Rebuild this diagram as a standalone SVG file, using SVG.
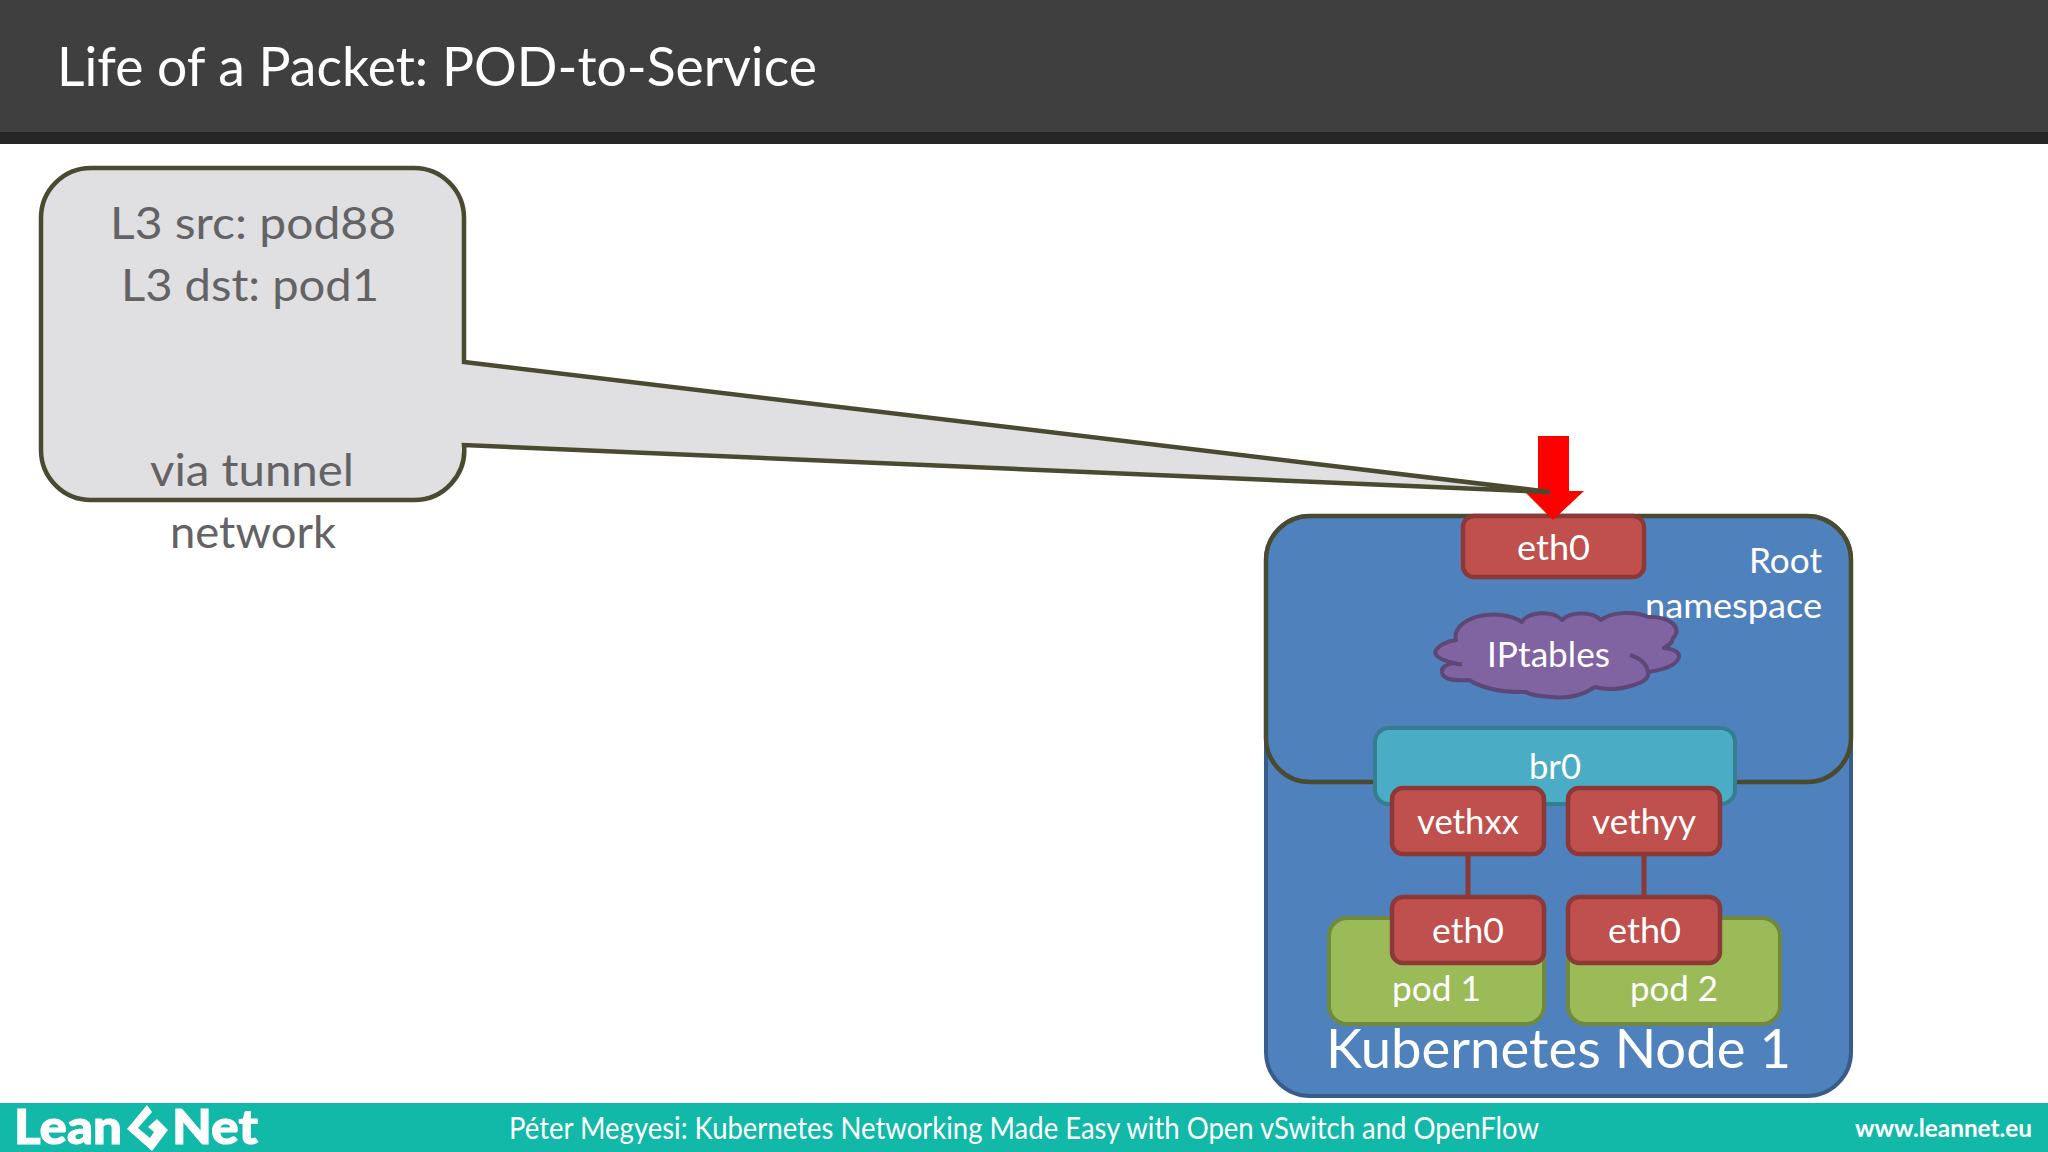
<svg xmlns="http://www.w3.org/2000/svg" width="2048" height="1152" viewBox="0 0 2048 1152">
<style>
text{font-family:Lato,"Open Sans","Liberation Sans",sans-serif;fill:#fff;}
.port{fill:#c0504d;stroke:#8c3836;stroke-width:4.5;}
.pod{fill:#9bbb59;stroke:#71893f;stroke-width:4;}
.lbl{font-size:35px;}
.call{font-size:45px;fill:#636264;}
.wire{stroke:#8c3836;stroke-width:5;fill:none;}
.olive{stroke:#4a4a30;stroke-width:4.5;}
</style>
<rect width="2048" height="1152" fill="#fff"/>
<g id="header">
<rect width="2048" height="132" fill="#3f3f3f"/>
<rect y="132" width="2048" height="12" fill="#262626"/>
<text x="57" y="86" font-size="54" textLength="760" lengthAdjust="spacingAndGlyphs">Life of a Packet: POD-to-Service</text>
</g>
<g id="footer">
<rect y="1103" width="2048" height="49" fill="#12b9a8"/>
<text x="14" y="1144" font-size="47" font-weight="900" stroke="#fff" stroke-width="1" textLength="108" lengthAdjust="spacingAndGlyphs">Lean</text>
<path d="M147 1105 L127 1129 L152 1151 L168 1130 L157 1119 L148 1127 L154 1132 L150 1138 L138 1128 L152 1112 Z" fill="#fff"/>
<text x="172" y="1144" font-size="47" font-weight="900" stroke="#fff" stroke-width="1" textLength="86" lengthAdjust="spacingAndGlyphs">Net</text>
<text x="509" y="1139" font-size="30" textLength="1030" lengthAdjust="spacingAndGlyphs">Péter Megyesi: Kubernetes Networking Made Easy with Open vSwitch and OpenFlow</text>
<text x="1855" y="1137" font-size="24" font-weight="700" textLength="177" lengthAdjust="spacingAndGlyphs">www.leannet.eu</text>
</g>
<g id="kubernetes-node-1">
<rect x="1266" y="516" width="585" height="580" rx="44" fill="#4f81bd" stroke="#385d8a" stroke-width="4"/>
<text x="1326" y="1068" font-size="55" textLength="465" lengthAdjust="spacingAndGlyphs">Kubernetes Node 1</text>
</g>
<g id="root-namespace">
<rect x="1266" y="516" width="585" height="266" rx="44" fill="#4f81bd" class="olive"/>
<text x="1749" y="573" class="lbl" textLength="73" lengthAdjust="spacingAndGlyphs">Root</text>
<text x="1645" y="618" class="lbl" textLength="177" lengthAdjust="spacingAndGlyphs">namespace</text>
</g>
<g id="eth0-root">
<rect x="1463" y="516" width="181" height="61" rx="11" class="port"/>
<text x="1517" y="560" class="lbl" textLength="73" lengthAdjust="spacingAndGlyphs">eth0</text>
</g>
<g id="iptables">
<path d="M1456 640 A38 22 0 0 1 1522 622 A22 13 0 0 1 1562 620 A22 12 0 0 1 1601 620 A30 14 0 0 1 1648 617 A26 14 0 0 1 1673 638 Q1672 644 1664 648 Q1680 650 1679 657 Q1676 668 1648 672 Q1650 680 1634 685 Q1612 692 1595 687 Q1575 700 1552 697 Q1532 696 1526 692 Q1490 693 1469 680 Q1440 682 1442 670 Q1443 665 1454 663 Q1432 658 1436 650 Q1442 642 1456 640 Z" fill="#8064a2" stroke="#5c4776" stroke-width="4" stroke-linejoin="round"/>
<path d="M1454 663 Q1458 665 1462 664 M1664 648 Q1668 645 1672 642 M1630 655 Q1646 660 1648 672" fill="none" stroke="#5c4776" stroke-width="4"/>
<text x="1487" y="667" class="lbl" textLength="123" lengthAdjust="spacingAndGlyphs">IPtables</text>
</g>
<g id="br0">
<rect x="1375" y="728" width="360" height="76" rx="14" fill="#4bacc6" stroke="#357d91" stroke-width="4"/>
<text x="1529" y="779" class="lbl" textLength="52" lengthAdjust="spacingAndGlyphs">br0</text>
</g>
<g id="pod-1">
<rect x="1329" y="918" width="215" height="106" rx="18" class="pod"/>
<text x="1392" y="1001" class="lbl" textLength="89" lengthAdjust="spacingAndGlyphs">pod 1</text>
</g>
<g id="pod-2">
<rect x="1568" y="918" width="212" height="106" rx="18" class="pod"/>
<text x="1630" y="1001" class="lbl" textLength="88" lengthAdjust="spacingAndGlyphs">pod 2</text>
</g>
<g id="connectors">
<path class="wire" d="M1468 856V895"/>
<path class="wire" d="M1644 856V895"/>
</g>
<g id="vethxx">
<rect x="1392" y="788" width="152" height="66" rx="11" class="port"/>
<text x="1417" y="834" class="lbl" textLength="102" lengthAdjust="spacingAndGlyphs">vethxx</text>
</g>
<g id="vethyy">
<rect x="1568" y="788" width="152" height="66" rx="11" class="port"/>
<text x="1592" y="834" class="lbl" textLength="104" lengthAdjust="spacingAndGlyphs">vethyy</text>
</g>
<g id="eth0-pod-1">
<rect x="1392" y="897" width="152" height="66" rx="11" class="port"/>
<text x="1432" y="943" class="lbl" textLength="72" lengthAdjust="spacingAndGlyphs">eth0</text>
</g>
<g id="eth0-pod-2">
<rect x="1568" y="897" width="152" height="66" rx="11" class="port"/>
<text x="1608" y="943" class="lbl" textLength="73" lengthAdjust="spacingAndGlyphs">eth0</text>
</g>
<g id="red-arrow">
<path d="M1538 436H1569V491H1584L1553 520L1524 491H1538Z" fill="#ff0000"/>
</g>
<g id="callout">
<path d="M91 168H414A50 50 0 0 1 464 218V362L1550 492L464 445A50 50 0 0 1 414 500H91A50 50 0 0 1 41 450V218A50 50 0 0 1 91 168Z" fill="#e0dfe1" class="olive"/>
<text x="110" y="239" class="call" textLength="286" letter-spacing="0" lengthAdjust="spacingAndGlyphs">L3 src: pod88</text>
<text x="121" y="301" class="call" textLength="258" lengthAdjust="spacingAndGlyphs">L3 dst: pod1</text>
<text x="150" y="486" class="call" textLength="204" lengthAdjust="spacingAndGlyphs">via tunnel</text>
<text x="170" y="548" class="call" textLength="166" lengthAdjust="spacingAndGlyphs">network</text>
</g>
</svg>
